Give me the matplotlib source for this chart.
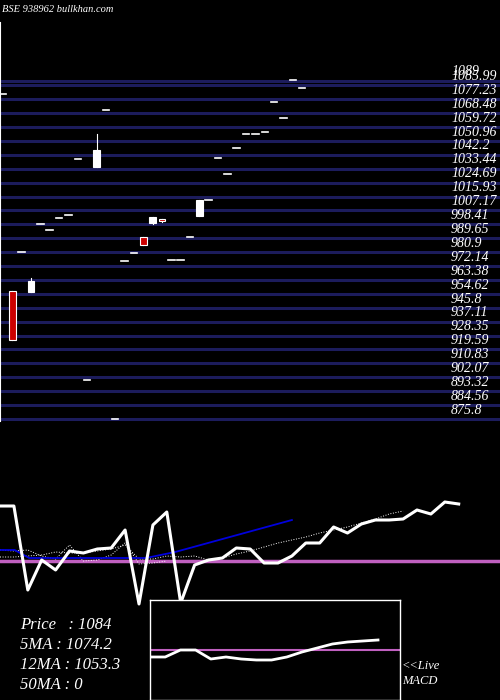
import numpy as np
import matplotlib.pyplot as plt
from matplotlib.patches import Rectangle

# ── data ────────────────────────────────────────────────────────────
OPEN  = [1080.6, 956.4, 981.0, 955.8, 998.6, 994.9, 1002.4, 1004.3, 1039.6, 900.4,
         1034.6, 1070.5, 875.8, 975.3, 980.4, 990.5, 999.3, 1001.8, 976.0, 976.0,
         990.5, 1003.7, 1013.8, 1040.2, 1030.2, 1046.5, 1055.4, 1055.4, 1056.6, 1075.5,
         1065.4, 1089.4, 1084.3]
CLOSE = [1080.6, 925.6, 981.0, 962.7, 998.6, 994.9, 1002.4, 1004.3, 1039.6, 900.4,
         1045.3, 1070.5, 875.8, 975.3, 980.4, 985.4, 1003.1, 1000.6, 976.0, 976.0,
         990.5, 1013.8, 1013.8, 1040.2, 1030.2, 1046.5, 1055.4, 1055.4, 1056.6, 1075.5,
         1065.4, 1089.4, 1084.3]
HIGH  = [1080.6, 956.4, 981.0, 964.6, 998.6, 994.9, 1002.4, 1004.3, 1039.6, 900.4,
         1055.4, 1070.5, 875.8, 975.3, 980.4, 990.5, 1003.1, 1001.8, 976.0, 976.0,
         990.5, 1013.8, 1013.8, 1040.2, 1030.2, 1046.5, 1055.4, 1055.4, 1056.6, 1075.5,
         1065.4, 1089.4, 1084.3]
LOW   = [1080.6, 925.6, 981.0, 955.8, 998.6, 994.9, 1002.4, 1004.3, 1039.6, 900.4,
         1034.6, 1070.5, 875.8, 975.3, 980.4, 985.4, 998.4, 1000.0, 976.0, 976.0,
         990.5, 1003.7, 1013.8, 1040.2, 1030.2, 1046.5, 1055.4, 1055.4, 1056.6, 1075.5,
         1065.4, 1089.4, 1084.3]
GRID_LEVELS = [1089, 1085.99, 1077.23, 1068.48, 1059.72, 1050.96, 1042.2, 1033.44,
               1024.69, 1015.93, 1007.17, 998.41, 989.65, 980.9, 972.14, 963.38,
               954.62, 945.8, 937.11, 928.35, 919.59, 910.83, 902.07, 893.32,
               884.56, 875.8]
GRID_LABELS = ["1089", "1085.99", "1077.23", "1068.48", "1059.72", "1050.96", "1042.2",
               "1033.44", "1024.69", "1015.93", "1007.17", "998.41", "989.65", "980.9",
               "972.14", "963.38", "954.62", "945.8", "937.11", "928.35", "919.59",
               "910.83", "902.07", "893.32", "884.56", "875.8"]

IND_WHITE = [55, 55, -29, 1, -9, 10, 8, 12, 13, 31, -43, 36, 49, -42, -4, 1, 3, 13,
             12, -2, -2, 5, 18, 18, 34, 28, 37, 41, 41, 42, 51, 47, 59, 57]
IND_BLUE  = [11, 11, 3, 3, 3, 3, 3, 3, 3, 3, 3, 6, 9, 13, 17, 21, 25, 29, 33, 37, 41]
IND_DOT1  = [4, 4, 5, 6, 9, 8, 8, 10, 12, 16, 2, 2, 5, 4, 5, 1, 3, 7, 10, 14, 18,
             21, 24, 28, 31, 34, 38, 42, 47, 50]
IND_DOT2  = [11, 10, 11, 5, 2, 16, 0, 1, 6, 18, -3, -2, 0]
MACD      = [-7, -7, 0, 0, -9, -7, -9, -10, -10, -7, -2, 2, 6, 8, 9, 10]

PRICE_TEXT = ["Price   : 1084", "5MA : 1074.2", "12MA : 1053.3", "50MA : 0"]

# ── layout (pixel based) ────────────────────────────────────────────
W, H = 500, 700
PPX = 0.630                      # price per pixel
P_TOP = 875.8 + 419 * PPX        # price at pixel y=0
P_BOT = 875.8 - 11 * PPX         # price at pixel y=430
CX0, CDX = 3, 9.35               # candle x pixel = CX0 + CDX * i

fig = plt.figure(figsize=(5, 7), dpi=100, facecolor="black")
serif = dict(family=["Liberation Serif", "DejaVu Serif"], style="italic", color="white")

ax = fig.add_axes([0, 1 - 430 / H, 1, 430 / H])
ax.set_facecolor("black")
ax.set_xlim(-CX0 / CDX, (W - CX0) / CDX)
ax.set_ylim(P_BOT, P_TOP)
ax.axis("off")

for lvl, lab in zip(GRID_LEVELS, GRID_LABELS):
    ax.axhline(lvl, color="#1c1c5c", lw=2.2, zorder=1)
    ax.text((451 - CX0) / CDX, lvl + 1.5, lab, fontsize=10, va="bottom",
            ha="left", zorder=2, **serif)
ax.axvline(-CX0 / CDX + 0.05, color="white", lw=0.8, ymin=0.02, ymax=0.95)

bw = 0.7
for i, (o, c, h, l) in enumerate(zip(OPEN, CLOSE, HIGH, LOW)):
    if abs(c - o) < 0.8:
        ax.plot([i - 0.35, i + 0.35], [c, c], color="white", lw=1.2, zorder=3)
        continue
    up = c > o
    ax.plot([i, i], [l, h], color="white", lw=0.8, zorder=3)
    ax.add_patch(Rectangle((i - bw / 2, min(o, c)), bw, abs(c - o),
                           facecolor="white" if up else "#cc0000",
                           edgecolor="white", lw=0.8, zorder=4))

ax.text(0.005, 1 - 10 / 430, "BSE 938962 bullkhan.com", transform=ax.transAxes,
        fontsize=7.5, va="center", **serif)

# ── indicator panel ─────────────────────────────────────────────────
ax2 = fig.add_axes([0, 0, 1, 210 / H])
ax2.set_facecolor("black")
DX = 13.9
ax2.set_xlim(0, W / DX)
ax2.set_ylim(-139, 71)
ax2.axis("off")
ax2.axhline(0, color="#c060c0", lw=2.5, zorder=2)
ax2.plot(np.arange(len(IND_DOT1)), IND_DOT1, color="white", lw=0.7, ls=":", zorder=3)
ax2.plot(np.arange(len(IND_DOT2)), IND_DOT2, color="white", lw=0.7, ls=":", zorder=3)
ax2.plot(np.arange(len(IND_BLUE)) * 1.05, IND_BLUE, color="#0000dd", lw=1.3, zorder=3)
ax2.plot(np.arange(len(IND_WHITE)), IND_WHITE, color="white", lw=2.2, zorder=4)

for k, t in enumerate(PRICE_TEXT):
    fig.text(20 / W, 1 - (625 + 20 * k) / H, t, fontsize=12, va="center", **serif)
fig.text(402 / W, 1 - 666 / H, "<<Live", fontsize=9, va="center", **serif)
fig.text(402 / W, 1 - 681 / H, "MACD", fontsize=9, va="center", **serif)

# ── MACD inset ──────────────────────────────────────────────────────
ax3 = fig.add_axes([150 / W, 0, 250 / W, 100 / H])
ax3.set_facecolor("black")
ax3.set_xlim(0, 250 / 15.2)
ax3.set_ylim(-50, 50)
ax3.set_xticks([]); ax3.set_yticks([])
for s in ax3.spines.values():
    s.set_color("white"); s.set_linewidth(1)
ax3.axhline(0, color="#c060c0", lw=1.5)
ax3.plot(np.arange(len(MACD)), MACD, color="white", lw=2)

fig.savefig("out.png", dpi=100, facecolor="black")
